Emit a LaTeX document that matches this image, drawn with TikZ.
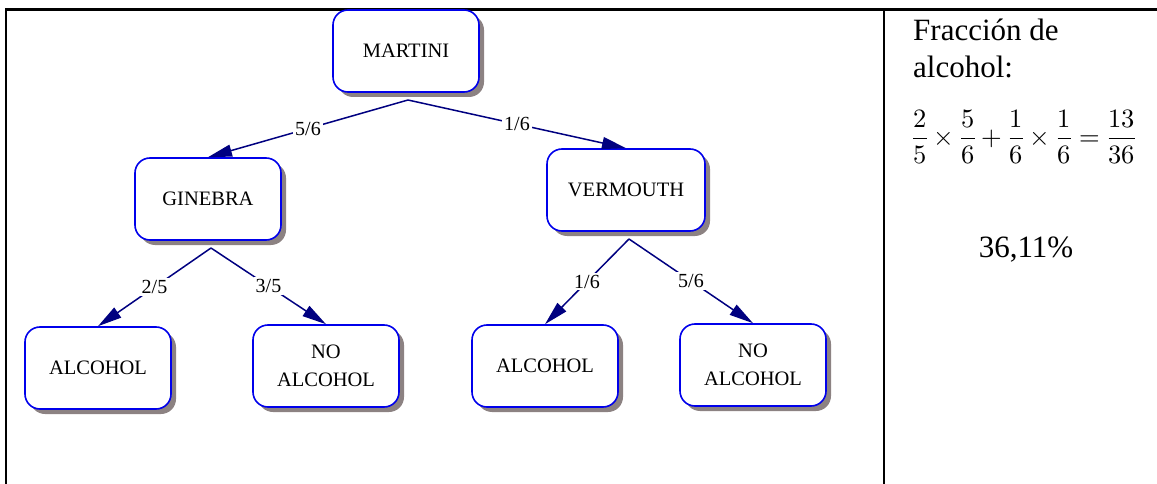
\documentclass[tikz,border=0pt]{standalone}
\usepackage{fontspec}
\usepackage{unicode-math}
\setmainfont{Liberation Serif}
\setmathfont{Latin Modern Math}
\usetikzlibrary{shadows,arrows.meta}
\definecolor{boxblue}{RGB}{0,0,235}
\definecolor{edgenavy}{RGB}{0,0,128}
\definecolor{shadowgrey}{RGB}{140,130,130}
\begin{document}
\begin{tikzpicture}[x=1pt,y=-1pt,
  treebox/.style={draw=boxblue, line width=1.6pt, rounded corners=15pt, fill=white,
    minimum width=146pt, minimum height=82pt, align=center, inner sep=0pt,
    font=\fontsize{20.5}{28}\selectfont,
    drop shadow={shadow xshift=5pt, shadow yshift=-5pt, fill=shadowgrey, opacity=1}},
  treeedge/.style={draw=edgenavy, line width=1.5pt, -{Triangle[length=24pt,width=12pt]}},
  lbl/.style={fill=white, inner sep=2pt, font=\fontsize{20}{22}\selectfont, text=black},
  tableline/.style={line width=2.5pt, black},
  celltext/.style={inner sep=0pt, font=\fontsize{31}{37}\selectfont}]
\useasboundingbox (0,0) rectangle (1157,484);
% table
\draw[tableline] (6,484) -- (6,9.5) -- (1157,9.5);
\draw[tableline] (884,9.5) -- (884,484);
% tree
\node[treebox] (m) at (406,51) {MARTINI};
\node[treebox] (g) at (208,199) {GINEBRA};
\node[treebox, minimum width=158pt] (v) at (626,190) {VERMOUTH};
\node[treebox] (a1) at (98,368) {ALCOHOL};
\node[treebox] (n1) at (326,366) {NO\\ALCOHOL};
\node[treebox] (a2) at (545,366) {ALCOHOL};
\node[treebox] (n2) at (753,365) {NO\\ALCOHOL};
\coordinate (mj) at (408,100);
\coordinate (gj) at (211,248);
\coordinate (vj) at (629,239);
\draw[treeedge] (mj) -- node[lbl] {5/6} (g.north);
\draw[treeedge] (mj) -- node[lbl] {1/6} (v.north);
\draw[treeedge] (gj) -- node[lbl] {2/5} (a1.north);
\draw[treeedge] (gj) -- node[lbl] {3/5} (n1.north);
\draw[treeedge] (vj) -- node[lbl] {1/6} (a2.north);
\draw[treeedge] (vj) -- node[lbl] {5/6} (n2.north);
% right cell
\node[celltext, anchor=base west] (t1) at (913,41) {Fracción de};
\node[celltext, anchor=base west] (t2) at (913,78) {alcohol:};
\node[inner sep=0pt, anchor=west, font=\fontsize{26.5}{32}\selectfont] (eq) at (912,137)
  {$\displaystyle \frac{2}{5}\times\frac{5}{6}+\frac{1}{6}\times\frac{1}{6}=\frac{13}{36}$};
\node[celltext, anchor=base] (pct) at (1026,257) {36,11\%};
\end{tikzpicture}
\end{document}
